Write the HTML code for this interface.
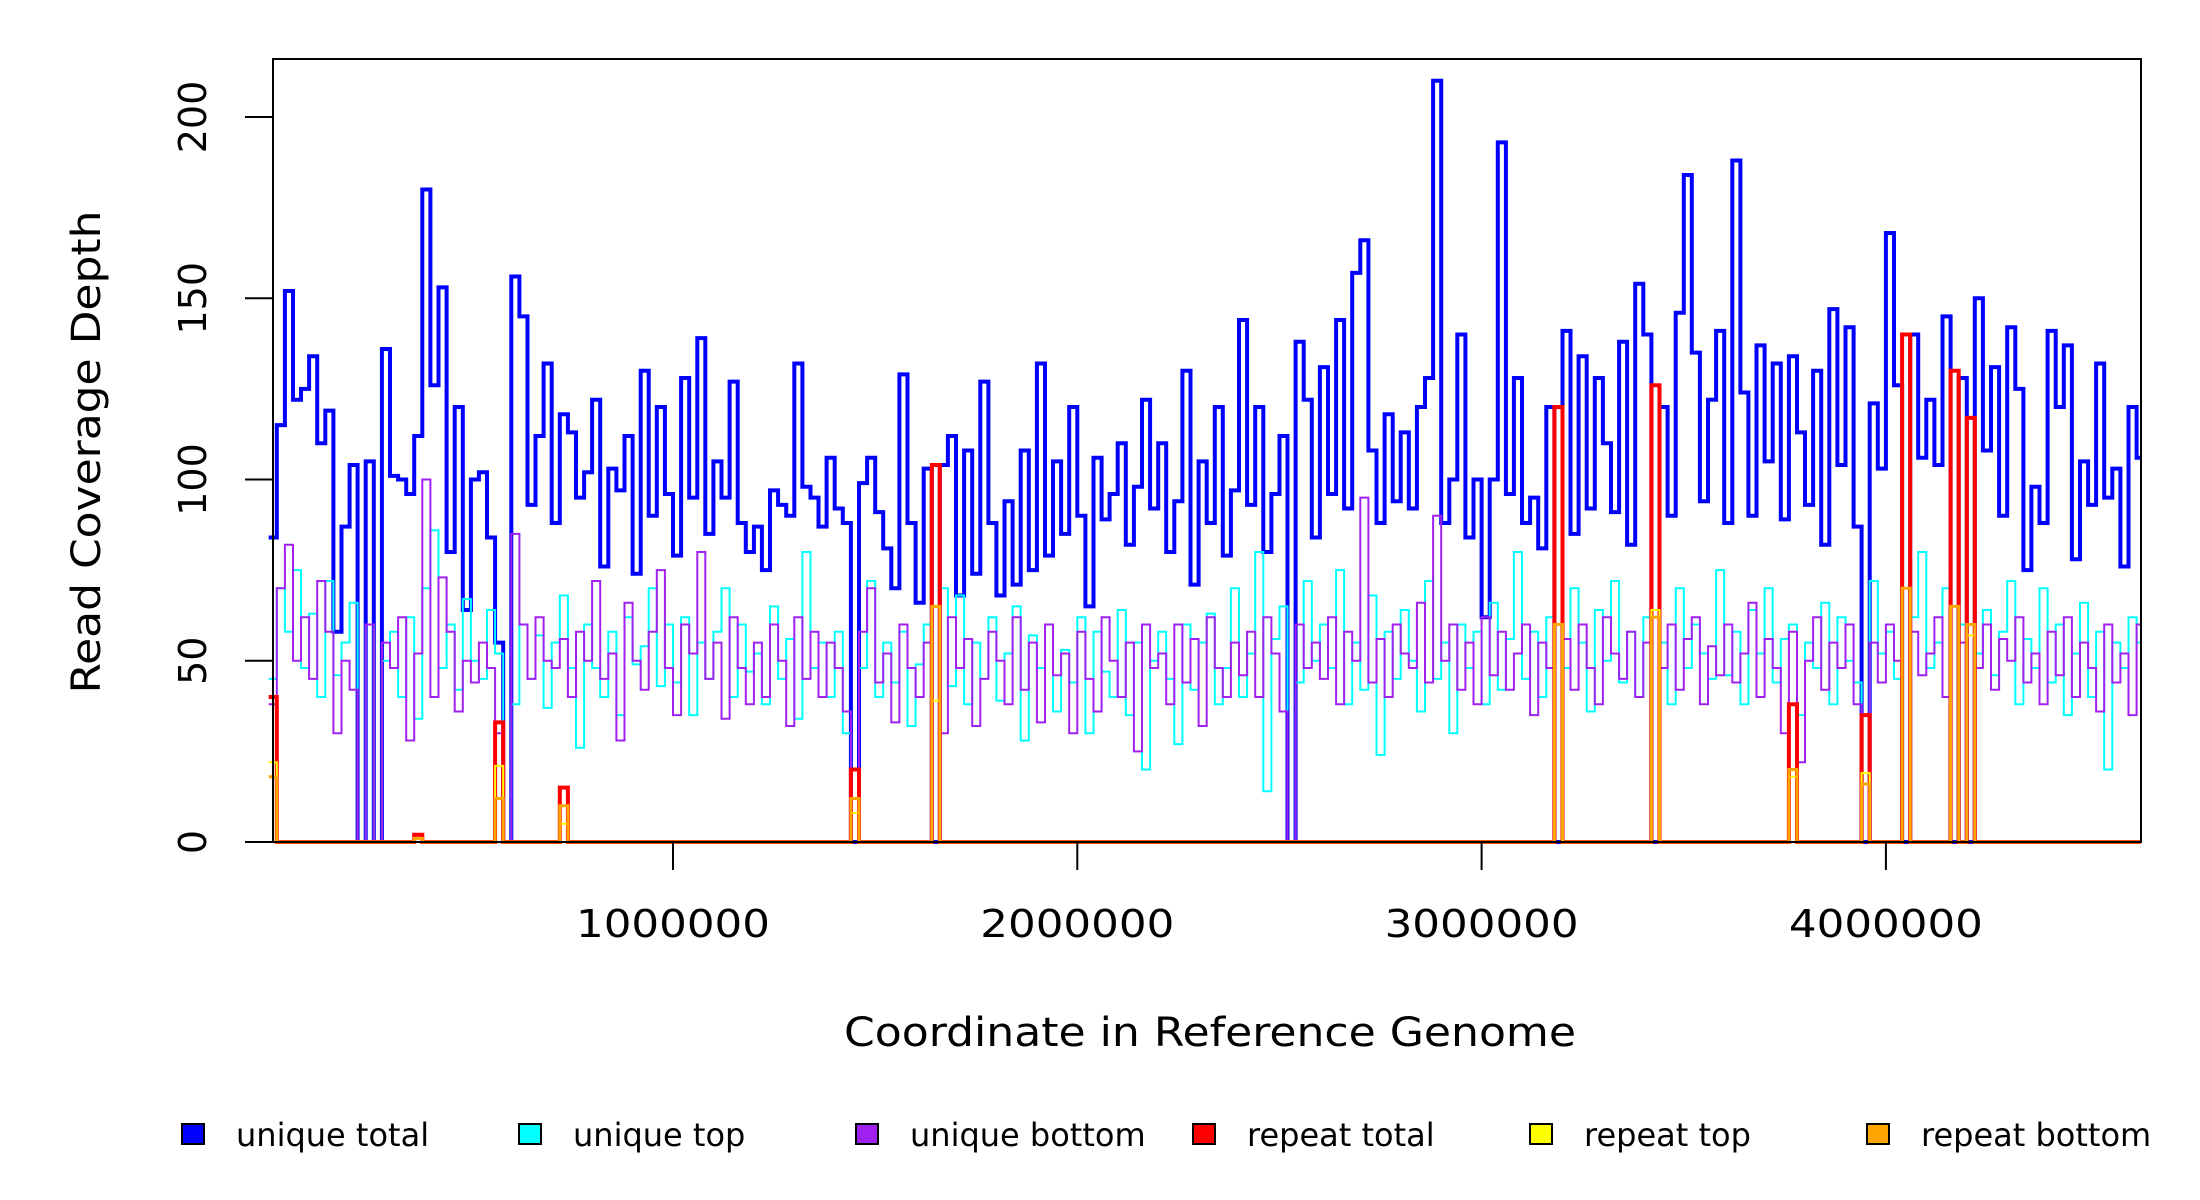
<!DOCTYPE html>
<html><head><meta charset="utf-8"><style>
html,body{margin:0;padding:0;background:#fff;}
svg{display:block;font-family:"DejaVu Sans","Liberation Sans",sans-serif;}
</style></head><body>
<svg id="chart" width="2200" height="1200" viewBox="0 0 2200 1200" xmlns="http://www.w3.org/2000/svg">
<rect width="2200" height="1200" fill="#fff"/>
<g id="series"></g>
<rect x="273" y="59" width="1868" height="783" fill="none" stroke="#000" stroke-width="2"/>
<g id="axes"></g>
<text transform="translate(100,452) rotate(-90)" text-anchor="middle" font-size="40" textLength="483" lengthAdjust="spacingAndGlyphs">Read Coverage Depth</text>
<text x="1210" y="1046" text-anchor="middle" font-size="40" textLength="732" lengthAdjust="spacingAndGlyphs">Coordinate in Reference Genome</text>
<g id="legend"></g>
</svg>
<script>
const binSize = 20000;
const uniqueTotal = [84,115,152,122,125,134,110,119,58,87,
104,0,105,0,136,101,100,96,112,180,
126,153,80,120,64,100,102,84,55,0,
156,145,93,112,132,88,118,113,95,102,
122,76,103,97,112,74,130,90,120,96,
79,128,95,139,85,105,95,127,88,80,
87,75,97,93,90,132,98,95,87,106,
92,88,0,99,106,91,81,70,129,88,
66,103,0,104,112,68,108,74,127,88,
68,94,71,108,75,132,79,105,85,120,
90,65,106,89,96,110,82,98,122,92,
110,80,94,130,71,105,88,120,79,97,
144,93,120,80,96,112,0,138,122,84,
131,96,144,92,157,166,108,88,118,94,
113,92,120,128,210,88,100,140,84,100,
62,100,193,96,128,88,95,81,120,0,
141,85,134,92,128,110,91,138,82,154,
140,0,120,90,146,184,135,94,122,141,
88,188,124,90,137,105,132,89,134,113,
93,130,82,147,104,142,87,0,121,103,
168,126,0,140,106,122,104,145,0,128,
0,150,108,131,90,142,125,75,98,88,
141,120,137,78,105,93,132,95,103,76,
120,106];
const uniqueTop = [45,70,58,75,48,63,40,72,46,55,
66,0,60,0,50,58,40,62,34,70,
86,48,60,42,67,50,45,64,52,0,
38,60,45,57,37,55,68,48,26,60,
48,40,58,35,62,49,54,70,43,60,
44,62,35,55,45,58,70,40,60,47,
52,38,65,45,56,34,80,48,55,40,
58,30,0,48,72,40,55,44,58,32,
49,60,0,70,43,68,38,55,45,62,
39,52,65,28,57,48,60,36,53,44,
62,30,58,47,40,64,35,55,20,50,
58,45,27,60,42,55,63,38,48,70,
40,52,80,14,56,65,0,44,72,50,
60,48,75,38,55,42,68,24,58,45,
64,50,36,72,45,55,30,60,48,58,
38,66,42,56,80,45,58,40,62,0,
48,70,55,36,64,50,72,44,58,40,
62,0,55,38,70,48,60,52,45,75,
46,58,38,64,52,70,44,56,60,35,
55,48,66,38,62,50,44,0,72,52,
58,45,0,62,80,48,55,70,0,60,
0,52,64,46,58,72,38,56,48,70,
44,60,35,52,66,40,58,20,55,48,
62,55];
const uniqueBottom = [38,70,82,50,62,45,72,58,30,50,
42,0,60,0,55,48,62,28,52,100,
40,73,58,36,50,44,55,48,30,0,
85,60,45,62,50,48,56,40,58,50,
72,45,52,28,66,50,42,58,75,48,
35,60,52,80,45,55,34,62,48,38,
55,40,60,50,32,62,45,58,40,55,
48,36,0,58,70,44,52,33,60,48,
40,55,0,30,62,48,56,32,45,58,
50,38,62,42,55,33,60,46,52,30,
58,45,36,62,50,40,55,25,60,48,
52,38,60,44,56,32,62,48,40,55,
46,58,40,62,52,36,0,60,48,55,
45,62,38,58,50,95,44,56,40,60,
52,48,66,44,90,50,60,42,55,38,
62,46,58,42,52,60,35,55,48,0,
56,42,60,48,38,62,52,45,58,40,
55,0,48,60,42,56,62,38,54,46,
60,44,52,66,40,56,48,30,58,22,
50,62,42,55,48,60,38,0,55,44,
60,50,0,58,46,52,62,40,0,55,
0,48,60,42,56,50,62,44,52,38,
58,46,62,40,55,48,36,60,44,52,
35,60];
const repeatBins = [0,18,28,36,72,82,159,171,188,197,202,208,210];
const repeatTotal = [40,2,33,15,20,104,120,126,38,35,140,130,117];
const repeatTop = [22,1,21,5,8,39,60,64,18,19,70,65,57];
const repeatBottom = [18,1,12,10,12,65,60,62,20,16,70,65,60];
const yTicks = [0,50,100,150,200];
const xTicks = [1000000,2000000,3000000,4000000];
const legendLabels = ["unique total","unique top","unique bottom","repeat total","repeat top","repeat bottom"];
const legendColors = ["#0000ff","#00ffff","#a020f0","#ff0000","#ffff00","#ffa500"];

const NS = "http://www.w3.org/2000/svg";
const X0 = 268.7, PXM = 404.3 / 1000000;
const Y0 = 842, PYU = 3.625;
const xs = v => X0 + v * PXM;
const ys = v => Y0 - v * PYU;
const nBins = uniqueTotal.length;

function stepPath(vals) {
  let d = "M" + xs(0).toFixed(1) + "," + ys(vals[0]).toFixed(1);
  for (let i = 0; i < vals.length; i++) {
    d += "H" + Math.min(xs((i + 1) * binSize), 2141).toFixed(1);
    if (i + 1 < vals.length) d += "V" + ys(vals[i + 1]).toFixed(1);
  }
  return d;
}
function sparse(bins, vals) {
  const full = new Array(nBins).fill(0);
  bins.forEach((b, k) => { full[b] = vals[k]; });
  return full;
}
const seriesG = document.getElementById("series");
function addSeries(vals, color, w, name) {
  const p = document.createElementNS(NS, "path");
  p.setAttribute("d", stepPath(vals));
  p.setAttribute("fill", "none");
  p.setAttribute("stroke", color);
  p.setAttribute("stroke-width", w);
  
  
  seriesG.appendChild(p);
}
addSeries(uniqueTotal, "#0000ff", 4, "unique-total-line");
addSeries(uniqueTop, "#00ffff", 2, "unique-top-line");
addSeries(uniqueBottom, "#a020f0", 2, "unique-bottom-line");
addSeries(sparse(repeatBins, repeatTotal), "#ff0000", 4, "repeat-total-line");
addSeries(sparse(repeatBins, repeatTop), "#ffff00", 2, "repeat-top-line");
addSeries(sparse(repeatBins, repeatBottom), "#ffa500", 3, "repeat-bottom-line");

const axesG = document.getElementById("axes");
yTicks.forEach(t => {
  const l = document.createElementNS(NS, "line");
  l.setAttribute("x1", 245); l.setAttribute("x2", 273);
  l.setAttribute("y1", ys(t)); l.setAttribute("y2", ys(t));
  l.setAttribute("stroke", "#000"); l.setAttribute("stroke-width", 2);
  
  
  axesG.appendChild(l);
  const tx = document.createElementNS(NS, "text");
  tx.setAttribute("transform", "translate(206," + ys(t) + ") rotate(-90)");
  tx.setAttribute("text-anchor", "middle");
  tx.setAttribute("font-size", "38");
  tx.textContent = String(t);
  
  
  axesG.appendChild(tx);
});
xTicks.forEach(t => {
  const l = document.createElementNS(NS, "line");
  l.setAttribute("x1", xs(t)); l.setAttribute("x2", xs(t));
  l.setAttribute("y1", 842); l.setAttribute("y2", 870);
  l.setAttribute("stroke", "#000"); l.setAttribute("stroke-width", 2);
  
  
  axesG.appendChild(l);
  const tx = document.createElementNS(NS, "text");
  tx.setAttribute("x", xs(t)); tx.setAttribute("y", 937);
  tx.setAttribute("text-anchor", "middle");
  tx.setAttribute("font-size", "38");
  tx.setAttribute("textLength", "194");
  tx.setAttribute("lengthAdjust", "spacingAndGlyphs");
  tx.textContent = String(t);
  
  
  axesG.appendChild(tx);
});

const legG = document.getElementById("legend");
legendLabels.forEach((lab, i) => {
  const bx = 182 + i * 337;
  const r = document.createElementNS(NS, "rect");
  r.setAttribute("x", bx); r.setAttribute("y", 1124);
  r.setAttribute("width", 22); r.setAttribute("height", 20);
  r.setAttribute("fill", legendColors[i]); r.setAttribute("stroke", "#000"); r.setAttribute("stroke-width", 2);
  
  
  legG.appendChild(r);
  const tx = document.createElementNS(NS, "text");
  tx.setAttribute("x", bx + 54); tx.setAttribute("y", 1146);
  tx.setAttribute("font-size", "32");
  tx.textContent = lab;
  
  
  legG.appendChild(tx);
});
</script>
</body></html>
